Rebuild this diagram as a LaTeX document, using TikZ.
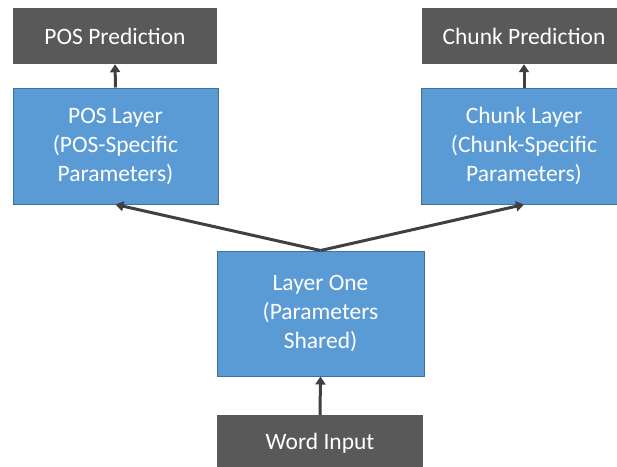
\documentclass[tikz,border=0pt]{standalone}
\usepackage{fontspec}
\setmainfont{Carlito}
\usetikzlibrary{arrows.meta}
\definecolor{darkbox}{HTML}{595959}
\definecolor{bluebox}{HTML}{5B9BD5}
\definecolor{blueedge}{HTML}{41719C}
\definecolor{arrowgray}{HTML}{404040}
\tikzset{
  outbox/.style={fill=darkbox, draw=none, text=white, inner sep=0pt,
    font=\fontsize{23.5}{28}\selectfont, align=center},
  layerbox/.style={fill=bluebox, draw=blueedge, line width=1pt, text=white, inner sep=0pt,
    font=\fontsize{23.5}{29}\selectfont, align=center},
  flow/.style={draw=arrowgray, line width=3pt, -{Triangle[width=10pt,length=8pt]}, shorten >=0pt}
}
\begin{document}
\begin{tikzpicture}[x=1pt, y=-1pt]
  \useasboundingbox (0,0) rectangle (617,466);
  \clip (0,0) rectangle (617,466);
  % output boxes
  \node[outbox, minimum width=204pt, minimum height=56pt] (posout) at (115,36) {POS Prediction};
  \node[outbox, minimum width=204pt, minimum height=56pt] (chunkout) at (524,36) {Chunk Prediction};
  % task-specific layers
  \node[layerbox, minimum width=205pt, minimum height=116pt] (poslayer) at (115.5,146)
    {POS Layer\\(POS-Specific\\Parameters)};
  \node[layerbox, minimum width=205pt, minimum height=116pt] (chunklayer) at (524,146)
    {Chunk Layer\\(Chunk-Specific\\Parameters)};
  % shared layer
  \node[layerbox, minimum width=207pt, minimum height=125pt] (shared) at (320.5,313.5)
    {Layer One\\(Parameters\\Shared)};
  % input
  \node[outbox, minimum width=206pt, minimum height=56pt] (input) at (320,443) {Word Input};
  % connectors
  \draw[flow] (input.north) -- (shared.south);
  \draw[flow] (shared.north) -- (poslayer.south);
  \draw[flow] (shared.north) -- (chunklayer.south);
  \draw[flow] (poslayer.north) -- (posout.south);
  \draw[flow] (chunklayer.north) -- (chunkout.south);
\end{tikzpicture}
\end{document}
